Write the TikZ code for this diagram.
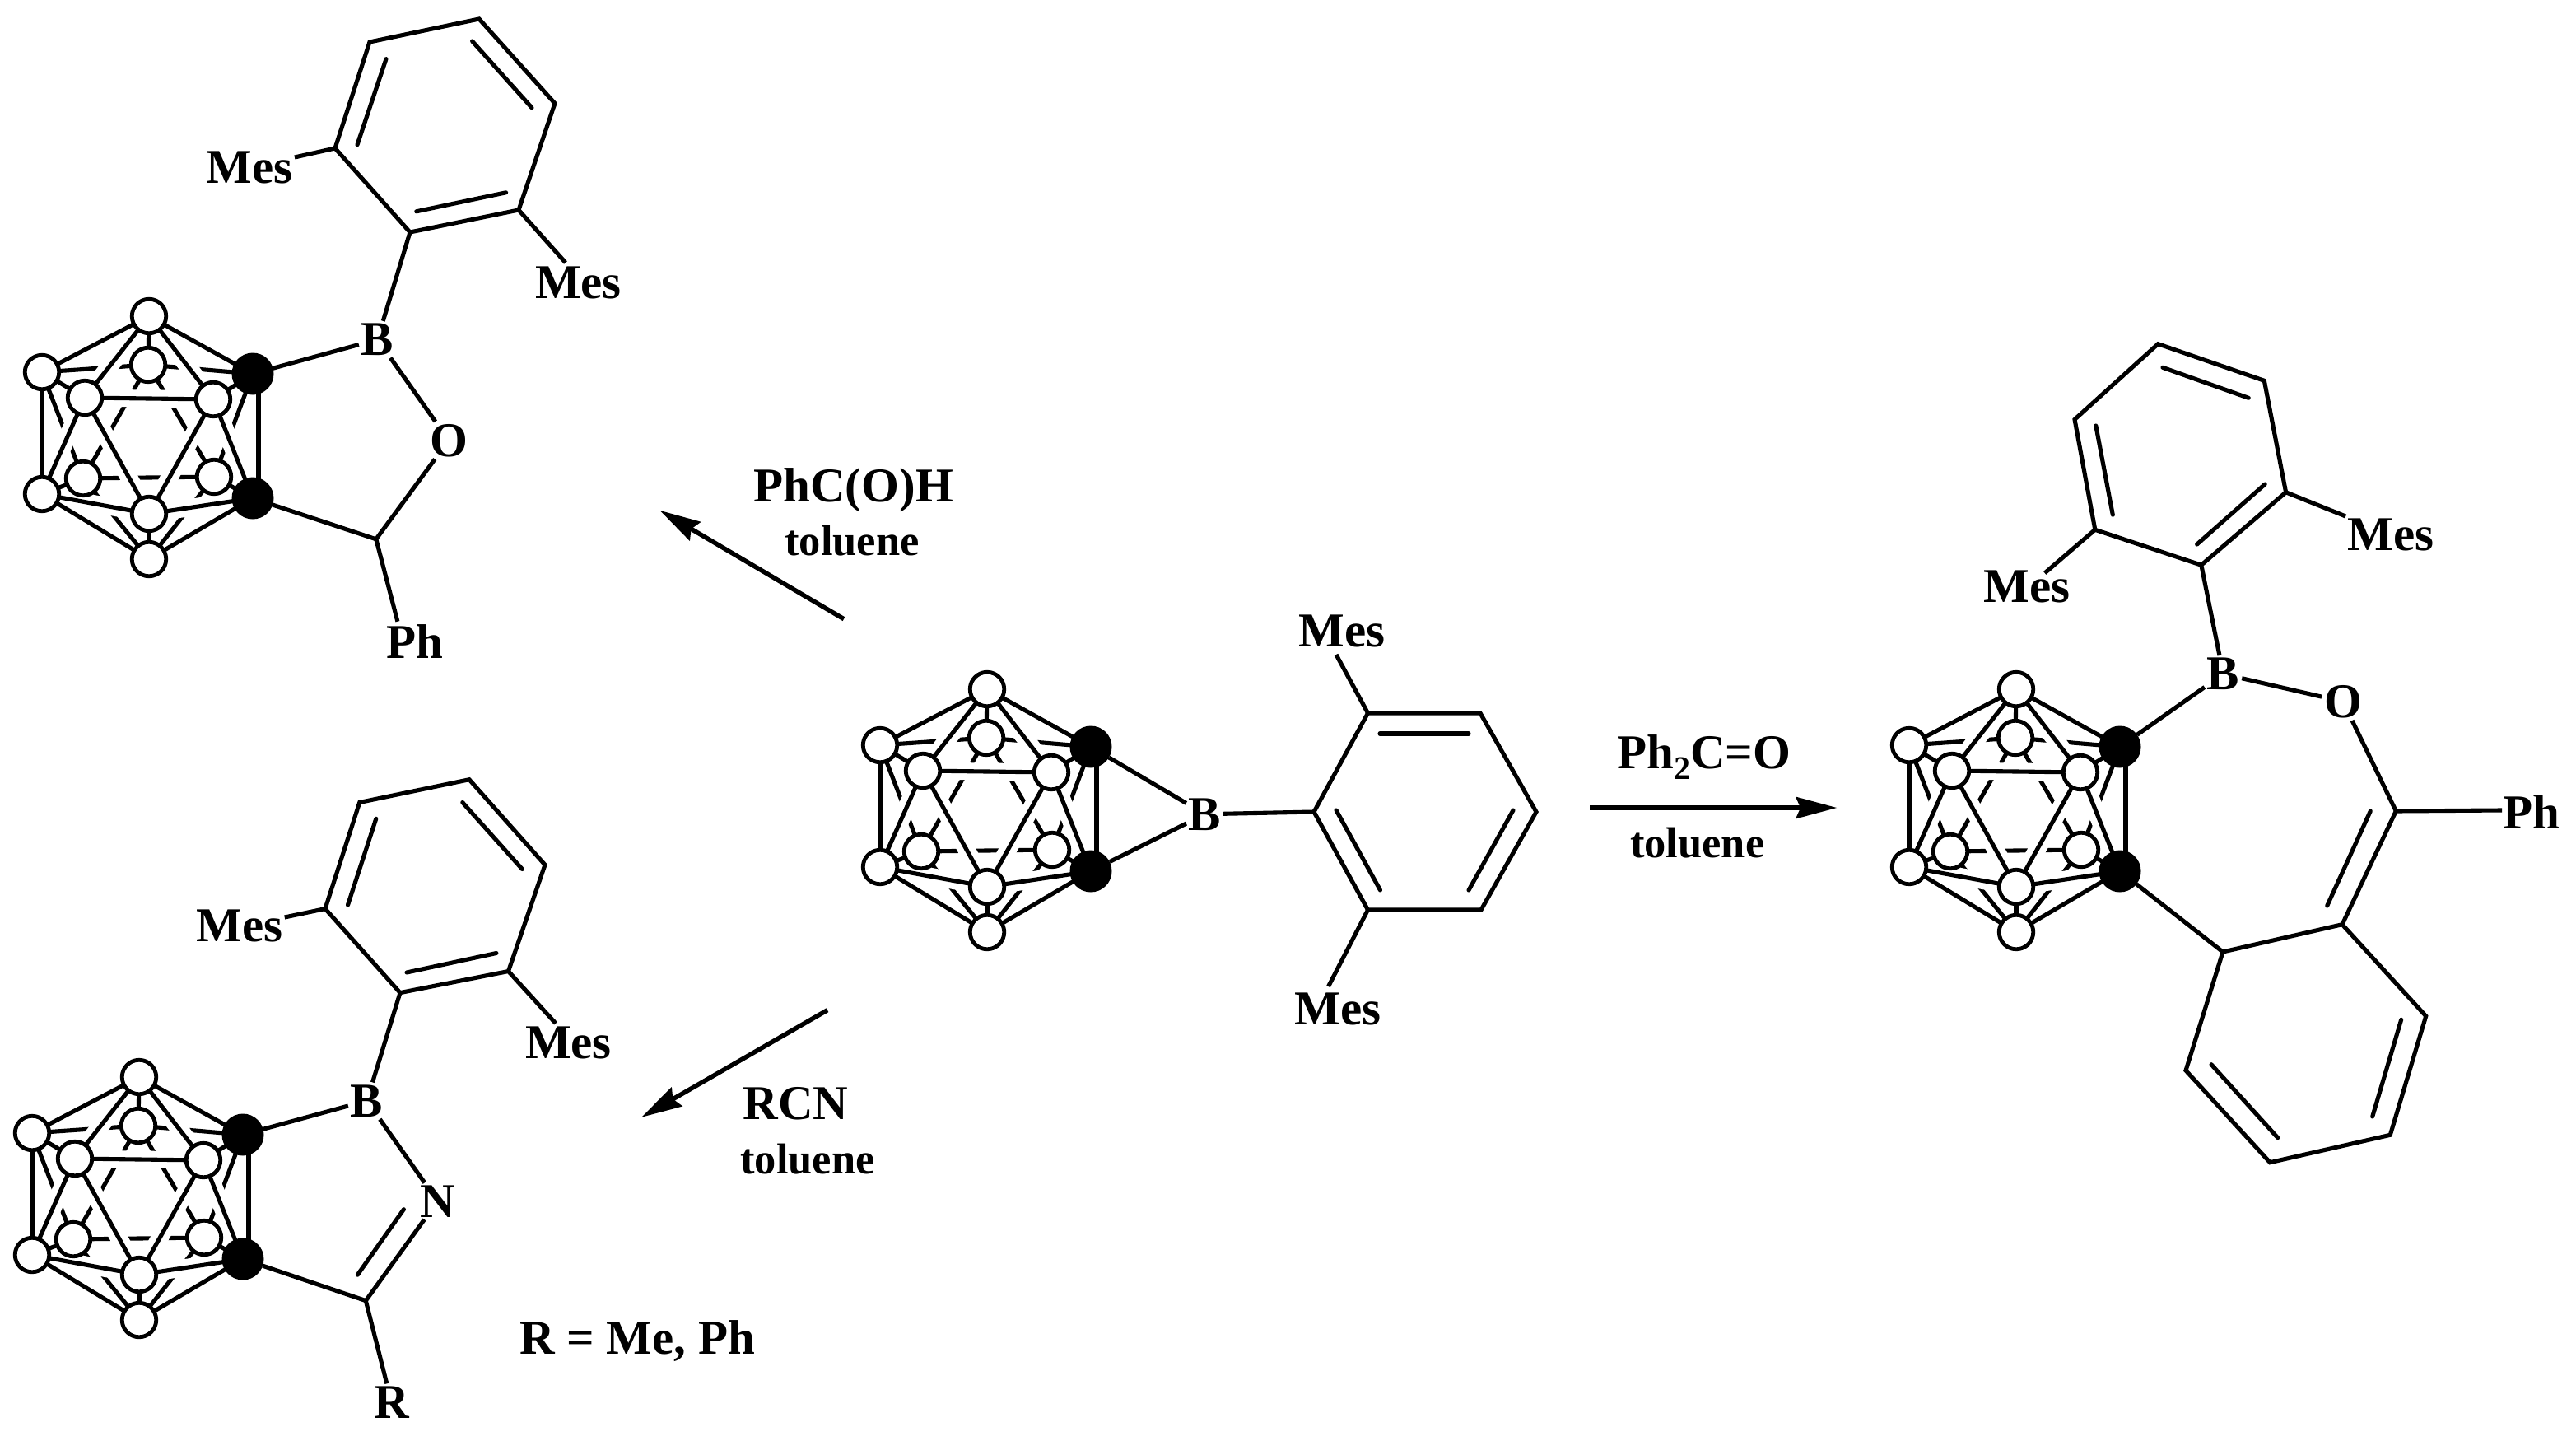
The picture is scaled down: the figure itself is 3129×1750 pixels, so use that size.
\documentclass[tikz,border=0pt]{standalone}
\usepackage{fontspec}
\setmainfont{Liberation Serif}
\usetikzlibrary{arrows.meta,backgrounds}
\tikzset{
  bond/.style={line width=5.1pt,line join=miter,line cap=butt},
  inbond/.style={line width=5.1pt,line cap=round},
  halo/.style={white,line width=21pt,shorten >=24pt,shorten <=24pt},
  cv/.style={circle,draw,fill=white,line width=4.8pt,minimum size=41.5pt,inner sep=0pt,outer sep=0pt},
  cb/.style={circle,fill=black,minimum size=51pt,inner sep=0pt,outer sep=0pt},
  atom/.style={font=\fontsize{59}{60}\selectfont\bfseries,anchor=base,inner sep=3pt,outer sep=0pt},
  lab/.style={font=\fontsize{59}{60}\selectfont\bfseries,anchor=base,inner sep=0pt,outer sep=0pt},
  solv/.style={font=\fontsize{52.5}{54}\selectfont\bfseries,anchor=base,inner sep=0pt,outer sep=0pt},
  rxn/.style={line width=5.5pt,-{Stealth[length=50pt,width=27pt,inset=6pt,line width=0pt]}}
}
% carborane cage: prefix, centre x, centre y
\newcommand{\cage}[3]{%
  \begin{scope}[shift={(#2,#3)}]
    \node[cv] (#1T) at (1,-148) {};
    \node[cv] (#1Bt) at (1,147) {};
    \node[cv] (#1UL) at (-129,-80) {};
    \node[cv] (#1LL) at (-129,68) {};
    \node[cb] (#1UR) at (127,-78) {};
    \node[cb] (#1LR) at (127,73) {};
    \node[cv] (#1FUL) at (-77,-49) {};
    \node[cv] (#1FUR) at (79,-47) {};
    \node[cv] (#1FB) at (1,92) {};
    \node[cv] (#1BT) at (0,-89) {};
    \node[cv] (#1BLL) at (-79,49) {};
    \node[cv] (#1BLR) at (80,47) {};
  \end{scope}
  \begin{pgfonlayer}{background}
    \foreach \a/\b in {BT/T,BT/UL,BT/UR,BLL/UL,BLL/LL,BLL/Bt,BLR/UR,BLR/LR,BLR/Bt,BLL/BLR,BT/BLL,BT/BLR}
      \draw[bond] (#1\a.center) -- (#1\b.center);
    \foreach \a/\b in {T/FUL,T/FUR,FUL/FUR,FUL/FB,FUR/FB,UR/FUR,LL/FUL,LR/FUR,LL/FB,LR/FB,Bt/FB}
      \draw[halo] (#1\a.center) -- (#1\b.center);
    \foreach \a/\b in {T/UL,UL/LL,LL/Bt,Bt/LR,UR/T,FUL/FUR,FUR/FB,FB/FUL,T/FUL,T/FUR,UL/FUL,UR/FUR,LL/FUL,LR/FUR,LL/FB,LR/FB,Bt/FB}
      \draw[bond] (#1\a.center) -- (#1\b.center);
    \draw[bond,line width=5.6pt] ([xshift=7pt]#1UR.center) -- ([xshift=7pt]#1LR.center);
  \end{pgfonlayer}
}
% inner stroke of a double bond
\newcommand{\dbl}[5]{%
  \coordinate (#1s) at (#2,#3);
  \coordinate (#1e) at (#4,#5);
  \draw[inbond] (#1s) -- (#1e);
}
% six named ring vertices
\newcommand{\ringsix}[7]{%
  \coordinate (#1a) at #2; \coordinate (#1b) at #3; \coordinate (#1c) at #4;
  \coordinate (#1d) at #5; \coordinate (#1e) at #6; \coordinate (#1f) at #7;
  \draw[bond] (#1a) -- (#1b) -- (#1c) -- (#1d) -- (#1e) -- (#1f) -- cycle;
}
\begin{document}
\begin{tikzpicture}[x=1pt,y=-1pt]
\useasboundingbox (0,0) rectangle (3129,1750);

% ---------- centre compound
\cage{m}{1198}{985}
\node[atom] (mB) at (1463.5,1008) {B};
\ringsix{mr}{(1596,986)}{(1661.5,866)}{(1798,866)}{(1866,986)}{(1799,1105)}{(1661.5,1105)}
\dbl{mi1}{1676}{891}{1784}{891}
\dbl{mi2}{1623}{984}{1676.5}{1081}
\dbl{mi3}{1838}{984}{1784}{1081}
\node[lab] (mMes1) at (1630,785) {Mes};
\node[lab] (mMes2) at (1625,1244) {Mes};
\coordinate (mp1) at (1623,795);
\coordinate (mp2) at (1613.5,1198);
\draw[bond] (mra) -- (mB);
\draw[bond] (mUR) -- (mB);
\draw[bond] (mLR) -- (mB);
\draw[bond] (mrb) -- (mp1);
\draw[bond] (mrf) -- (mp2);

% ---------- upper left product
\cage{a}{180}{532}
\node[atom] (aB) at (458.5,431.5) {B};
\node[atom] (aO) at (545,554) {O};
\ringsix{ar}{(407,180)}{(449,51)}{(582,23)}{(674,125.5)}{(630,255)}{(498,282)}
\dbl{ai1}{469}{71.6}{434}{175.7}
\dbl{ai2}{573.6}{50}{646}{130.8}
\dbl{ai3}{505.7}{256.8}{614.6}{233.8}
\node[lab] (aMes1) at (303,222) {Mes};
\node[lab] (aMes2) at (702.5,362) {Mes};
\node[lab] (aPh) at (503.5,799) {Ph};
\coordinate (aCH) at (456.8,654.8);
\coordinate (ap1) at (357.9,191);
\coordinate (ap2) at (687,319);
\coordinate (ap3) at (482.9,754.7);
\draw[bond] (arf) -- (aB);
\draw[bond] (aUR) -- (aB);
\draw[bond] (aB) -- (aO);
\draw[bond] (aO) -- (aCH);
\draw[bond] (aLR) -- (aCH);
\draw[bond] (aCH) -- (ap3);
\draw[bond] (ara) -- (ap1);
\draw[bond] (are) -- (ap2);

% ---------- lower left product
\cage{b}{168}{1456}
\node[atom] (bB) at (445.6,1356) {B};
\node[atom] (bN) at (531.5,1478) {N};
\node[atom] (bR) at (475.5,1722) {R};
\ringsix{br}{(395,1103.6)}{(436.8,974.5)}{(570,946.7)}{(662,1050.3)}{(617.5,1179.5)}{(486,1205.6)}
\dbl{bi1}{456.8}{994.3}{422.5}{1099}
\dbl{bi2}{561.8}{974.5}{634.3}{1055.5}
\dbl{bi3}{494}{1181}{602.9}{1157.5}
\dbl{bi4}{490.4}{1468.7}{434.3}{1548.2}
\node[lab] (bMes1) at (291,1143.4) {Mes};
\node[lab] (bMes2) at (690.5,1285.6) {Mes};
\node[lab,anchor=base west] (bnote) at (631,1644) {R = Me, Ph};
\coordinate (bC) at (444.3,1579.6);
\coordinate (bp1) at (345.7,1114);
\coordinate (bp2) at (675,1242.8);
\draw[bond] (brf) -- (bB);
\draw[bond] (bUR) -- (bB);
\draw[bond] (bB) -- (bN);
\draw[bond] (bN) -- (bC);
\draw[bond] (bLR) -- (bC);
\draw[bond] (bC) -- (bR);
\draw[bond] (bra) -- (bp1);
\draw[bond] (bre) -- (bp2);

% ---------- right product
\cage{c}{2448}{985}
\node[atom] (cB) at (2700.5,837.7) {B};
\node[atom] (cO) at (2846,871.4) {O};
\ringsix{cr}{(2544.8,643.3)}{(2520,509.4)}{(2621.3,417.7)}{(2750.3,462.3)}{(2776.6,597.8)}{(2673.8,686.2)}
\dbl{ci1}{2627}{446.3}{2731.2}{483.3}
\dbl{ci2}{2751.2}{588}{2668.6}{661}
\dbl{ci3}{2545.8}{517}{2566.3}{625.2}
\node[lab] (cMes1) at (2904,668.5) {Mes};
\node[lab] (cMes2) at (2462,731.7) {Mes};
\node[lab] (cPh) at (3075,1006) {Ph};
\coordinate (cp1) at (2849.2,627);
\coordinate (cp2) at (2483.7,695.9);
\coordinate (cp3) at (3039,984);
\coordinate (cC) at (2910.3,985);
\ringsix{cs}{(2700,1156)}{(2845,1122.7)}{(2946.7,1234)}{(2903.3,1378.3)}{(2757.3,1411.7)}{(2655,1300)}
\dbl{ci4}{2916.7}{1238.3}{2881.7}{1356}
\dbl{ci5}{2766.7}{1381.7}{2686}{1292.7}
\dbl{ci6}{2879.3}{985}{2826.7}{1100}
\draw[bond] (crf) -- (cB);
\draw[bond] (cUR) -- (cB);
\draw[bond] (cB) -- (cO);
\draw[bond] (cO) -- (cC);
\draw[bond] (cC) -- (csb);
\draw[bond] (cC) -- (cp3);
\draw[bond] (cLR) -- (csa);
\draw[bond] (cre) -- (cp1);
\draw[bond] (cra) -- (cp2);

% ---------- reaction arrows and conditions
\coordinate (t1) at (1025,751.7); \coordinate (h1) at (801.7,620);
\coordinate (t2) at (1931,981);   \coordinate (h2) at (2231,981);
\coordinate (t3) at (1005,1226.7);\coordinate (h3) at (779.3,1356.7);
\draw[rxn] (t1) -- (h1);
\draw[rxn] (t2) -- (h2);
\draw[rxn] (t3) -- (h3);
\node[lab] (r1) at (1036.7,609) {PhC(O)H};
\node[solv] (s1) at (1035,674) {toluene};
\node[lab] (r2) at (2069.8,933) {Ph\raisebox{-13pt}{\fontsize{40}{40}\selectfont 2}C=O};
\node[solv] (s2) at (2061.7,1041.7) {toluene};
\node[lab] (r3) at (966.7,1359) {RCN};
\node[solv] (s3) at (981,1425) {toluene};
\end{tikzpicture}
\end{document}
